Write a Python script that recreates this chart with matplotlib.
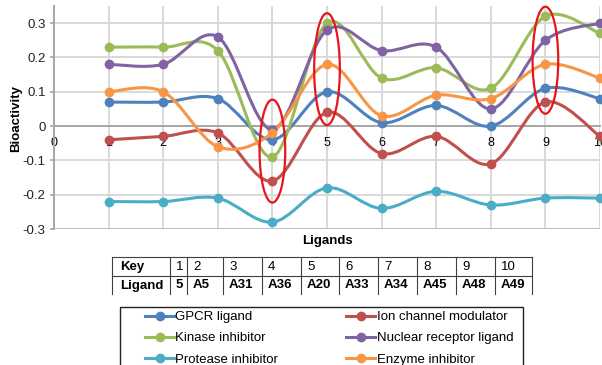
import numpy as np
import matplotlib
matplotlib.use("Agg")
import matplotlib.pyplot as plt
from matplotlib.path import Path
from matplotlib.patches import PathPatch, Ellipse, Rectangle
from matplotlib.lines import Line2D

plt.rcParams['font.family'] = ['Liberation Sans', 'DejaVu Sans']
plt.rcParams['font.size'] = 9

# data
keys = [1, 2, 3, 4, 5, 6, 7, 8, 9, 10]
ligands = ['5', 'A5', 'A31', 'A36', 'A20', 'A33', 'A34', 'A45', 'A48', 'A49']

gpcr = [0.07, 0.07, 0.08, -0.04, 0.10, 0.01, 0.06, 0.00, 0.11, 0.08]
ion_channel = [-0.04, -0.03, -0.02, -0.16, 0.04, -0.08, -0.03, -0.11, 0.07, -0.03]
kinase = [0.23, 0.23, 0.22, -0.09, 0.30, 0.14, 0.17, 0.11, 0.32, 0.27]
nuclear = [0.18, 0.18, 0.26, -0.01, 0.28, 0.22, 0.23, 0.05, 0.25, 0.30]
protease = [-0.22, -0.22, -0.21, -0.28, -0.18, -0.24, -0.19, -0.23, -0.21, -0.21]
enzyme = [0.10, 0.10, -0.06, -0.02, 0.18, 0.03, 0.09, 0.08, 0.18, 0.14]

series = [
    ('GPCR ligand', gpcr, '#4F81BD'),
    ('Ion channel modulator', ion_channel, '#C0504D'),
    ('Kinase inhibitor', kinase, '#9BBB59'),
    ('Nuclear receptor ligand', nuclear, '#8064A2'),
    ('Protease inhibitor', protease, '#4BACC6'),
    ('Enzyme inhibitor', enzyme, '#F79646'),
]

yticks = [-0.3, -0.2, -0.1, 0, 0.1, 0.2, 0.3]
ytick_labels = ['-0.3', '-0.2', '-0.1', '0', '0.1', '0.2', '0.3']
xticks = [0, 1, 2, 3, 4, 5, 6, 7, 8, 9, 10]

# highlighted ligands (x, y centre, height)
highlights = [(4, -0.073, 0.30), (5, 0.166, 0.326), (9, 0.192, 0.312)]


def smooth_path(xs, ys):
    # Excel-like smoothed line: cubic bezier with catmull-rom control points
    pts = np.column_stack([xs, ys]).astype(float)
    n = len(pts)
    verts = [pts[0]]
    codes = [Path.MOVETO]
    for i in range(n - 1):
        p0 = pts[i - 1] if i > 0 else pts[i]
        p3 = pts[i + 2] if i + 2 < n else pts[i + 1]
        c1 = pts[i] + (pts[i + 1] - p0) / 6
        c2 = pts[i + 1] - (p3 - pts[i]) / 6
        verts += [c1, c2, pts[i + 1]]
        codes += [Path.CURVE4] * 3
    return Path(verts, codes)


W, H = 602, 365
fig = plt.figure(figsize=(W / 100, H / 100), dpi=100)
ax = fig.add_axes([54 / W, 1 - 229 / H, 546 / W, 223 / H])

handles = {}
for name, vals, color in series:
    ax.add_patch(PathPatch(smooth_path(keys, vals), fill=False, edgecolor=color,
                           lw=2.2, zorder=3, capstyle='round'))
    ax.plot(keys, vals, 'o', color=color, markersize=6, zorder=4, clip_on=False)
    handles[name] = Line2D([], [], color=color, lw=2.2, marker='o', markersize=6)

for xc, yc, h in highlights:
    ax.add_patch(Ellipse((xc, yc), 0.47, h, fill=False, edgecolor='#E8141B',
                         lw=1.6, zorder=5, clip_on=False))

ax.set_xlim(0, 10)
ax.set_ylim(-0.3, 0.35)
ax.set_yticks(yticks)
ax.set_yticklabels(ytick_labels, fontsize=9.5, color='#222222')
ax.set_xticks(xticks)
ax.set_xticklabels([str(k) for k in xticks], fontsize=9.5, color='#222222')
ax.grid(True, color='#D9D9D9', lw=1.4)
ax.set_axisbelow(True)
ax.axhline(-0.3, color='#BFBFBF', lw=1.4, zorder=1)

for s in ['top', 'right']:
    ax.spines[s].set_visible(False)
ax.spines['bottom'].set_position(('data', 0))
ax.spines['bottom'].set_color('#A6A6A6')
ax.spines['bottom'].set_linewidth(1.4)
ax.spines['left'].set_color('#A6A6A6')
ax.spines['left'].set_linewidth(1.4)
ax.tick_params(axis='x', length=0, pad=8)
ax.tick_params(axis='y', length=3, width=1.2, color='#A6A6A6', pad=3)

# overlay in pixel coordinates for labels, key table and legend frame
ov = fig.add_axes([0, 0, 1, 1])
ov.set_xlim(0, W)
ov.set_ylim(H, 0)
ov.axis('off')

ov.text(16, 118, 'Bioactivity', rotation=90, ha='center', va='center',
        fontweight='bold', fontsize=9.5)
ov.text(327, 241, 'Ligands', ha='center', va='center', fontweight='bold', fontsize=9.5)

# key table
col_edges = [112, 170, 187, 223, 262, 301, 339, 378, 417, 456, 495, 532]
row_top, row_mid, row_bot = 257, 276, 294
tcolor = '#404040'
ov.plot([col_edges[0], col_edges[-1]], [row_top, row_top], color=tcolor, lw=0.8)
ov.plot([col_edges[0], col_edges[-1]], [row_mid, row_mid], color=tcolor, lw=0.8)
for xe in col_edges:
    ov.plot([xe, xe], [row_top, row_bot], color=tcolor, lw=0.8)

top_row = ['Key'] + [str(k) for k in keys]
bot_row = ['Ligand'] + ligands
for i in range(len(top_row)):
    x0 = col_edges[i] + (8 if i == 0 else 6)
    ov.text(x0, 267, top_row[i], ha='left', va='center', fontsize=9.5,
            fontweight='bold' if i == 0 else 'normal')
    ov.text(x0, 285.5, bot_row[i], ha='left', va='center', fontsize=9.5,
            fontweight='bold')

# legend
ov.add_patch(Rectangle((120, 307), 403, 80, fill=False, edgecolor='#222222', lw=1.0))
order = ['GPCR ligand', 'Kinase inhibitor', 'Protease inhibitor',
         'Ion channel modulator', 'Nuclear receptor ligand', 'Enzyme inhibitor']
fig.legend([handles[k] for k in order], order, ncol=2, loc='upper left',
           bbox_to_anchor=(145 / W, 1 - 311 / H), frameon=False, numpoints=1,
           handlelength=2.2, handletextpad=0.1, columnspacing=5.15,
           labelspacing=0.68, borderpad=0, borderaxespad=0, fontsize=9.5)

fig.savefig('out.png', dpi=100)
